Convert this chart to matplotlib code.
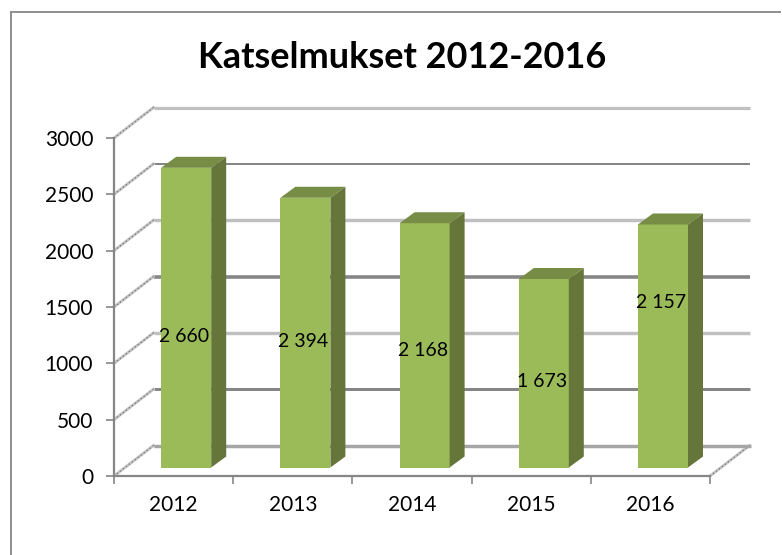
#!/usr/bin/env python3
import matplotlib
matplotlib.use("Agg")
import matplotlib.pyplot as plt
from matplotlib.lines import Line2D
from matplotlib.patches import Polygon

years = ["2012", "2013", "2014", "2015", "2016"]
values = [2660, 2394, 2168, 1673, 2157]
y_ticks = [0, 500, 1000, 1500, 2000, 2500, 3000]
title = "Katselmukset 2012-2016"

W, H = 782, 555
PX_X = 119.2      # pixels per category
PX_Y = 338 / 3000  # pixels per value unit

col_front = "#9BBB59"
col_side = "#66763A"
col_top = "#778C45"
col_axis = "#868686"
col_light = "#C0C0C0"

# grid colours/widths alternate like in the original 3d chart
grid_style = {0: (col_light, 3.2), 500: (col_axis, 3.0), 1000: (col_light, 3.4),
              1500: (col_axis, 3.6), 2000: (col_light, 3.4), 2500: (col_axis, 2.0),
              3000: (col_light, 3.2)}

plt.rcParams["font.family"] = ["Lato", "DejaVu Sans"]
fig = plt.figure(figsize=(W / 100, H / 100), dpi=100)
ax = fig.add_axes([114 / W, (H - 476) / H, 596 / W, 338 / H])
ax.set_xlim(0, len(years))
ax.set_ylim(0, 3000)
ax.patch.set_visible(False)

# depth of the walls and of the bars, as value/category units
wall_dx, wall_dy = 39.5 / PX_X, 30.5 / PX_Y
bar_dx, bar_dy = 15 / PX_X, 11 / PX_Y
bar_base = 8.5 / PX_Y
bar_w = 50 / PX_X
bar_shift = 12.6 / PX_X

for t in y_ticks:
    c, lw = grid_style[t]
    ax.plot([wall_dx, len(years) + wall_dx], [t + wall_dy, t + wall_dy], color=c,
            lw=lw * 0.72, clip_on=False, zorder=1, solid_capstyle="butt")
    ax.plot([0, wall_dx], [t, t + wall_dy], color=col_light, lw=2.0, clip_on=False, zorder=1)
    ax.plot([0, wall_dx], [t, t + wall_dy], color="#7A7A7A", lw=0.9, ls=(0, (1, 2)),
            clip_on=False, zorder=1)

# floor edge on the right
ax.plot([len(years), len(years) + wall_dx], [0, wall_dy], color=col_light, lw=2.0,
        clip_on=False, zorder=1)
ax.plot([len(years), len(years) + wall_dx], [0, wall_dy], color="#7A7A7A", lw=0.9,
        ls=(0, (1, 2)), clip_on=False, zorder=1)
ax.plot([wall_dx, len(years) + wall_dx + 0.01], [wall_dy, wall_dy], color="#A6A6A6",
        lw=2.4, clip_on=False, zorder=1, solid_capstyle="butt")

xs = [i + 0.5 + bar_shift for i in range(len(years))]
ax.bar(xs, values, width=bar_w, bottom=bar_base, color=col_front, lw=0, zorder=3, clip_on=False)

for x, v in zip(xs, values):
    r = x + bar_w / 2
    l = x - bar_w / 2
    top = bar_base + v
    ax.add_patch(Polygon([(r, bar_base), (r + bar_dx, bar_base + bar_dy),
                          (r + bar_dx, top + bar_dy), (r, top)],
                         closed=True, fc=col_side, lw=0, zorder=3, clip_on=False))
    ax.add_patch(Polygon([(l, top), (l + bar_dx, top + bar_dy),
                          (r + bar_dx, top + bar_dy), (r, top)],
                         closed=True, fc=col_top, lw=0, zorder=3, clip_on=False))

# data labels sit where the original has them, one was dragged by hand
label_heights = [1242, 1198, 1118, 843, 1544]
for x, v, h in zip(xs, values, label_heights):
    ax.text(x - 2 / PX_X, h, f"{v:,}".replace(",", " "), ha="center", va="center",
            fontsize=14, color="black", zorder=5)

for s in ("top", "right"):
    ax.spines[s].set_visible(False)
for s in ("left", "bottom"):
    ax.spines[s].set_color(col_axis)
    ax.spines[s].set_linewidth(1.6)
    ax.spines[s].set_zorder(2)

ax.set_yticks(y_ticks)
ax.set_xticks(range(len(years) + 1))
ax.set_xticklabels([])
ax.set_xticks([i + 0.5 for i in range(len(years))], minor=True)
ax.set_xticklabels(years, minor=True)
ax.tick_params(axis="both", which="major", length=6, width=1.2, color=col_axis, labelsize=15, pad=9)
ax.tick_params(axis="x", which="minor", length=0, labelsize=15, pad=14)

fig.text(402 / W, (H - 57) / H, title, ha="center", va="center", fontsize=26,
         fontweight="bold", color="black")

# chart border, runs off the right and bottom of the picture
fig.add_artist(Line2D([11 / W, 11 / W], [0, (H - 12) / H], color="#8E8E8E", lw=1.4))
fig.add_artist(Line2D([11 / W, 780 / W], [(H - 12) / H, (H - 12) / H], color="#8E8E8E", lw=1.4))

fig.savefig("out.png", dpi=100)
